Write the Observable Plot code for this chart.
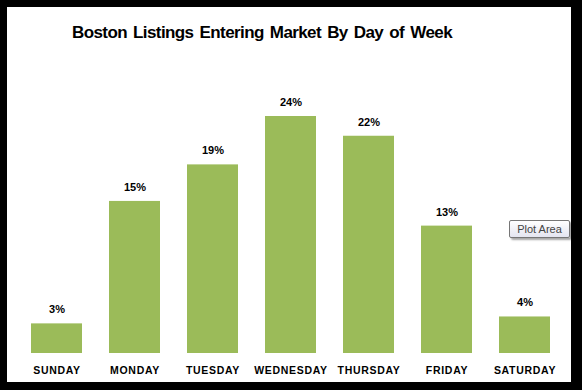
<!DOCTYPE html>
<html><head><meta charset="utf-8">
<script src="https://cdn.jsdelivr.net/npm/d3@7"></script>
<script src="https://cdn.jsdelivr.net/npm/@observablehq/plot@0.6"></script>
<style>
html,body{margin:0;padding:0;background:#000;width:582px;height:390px;overflow:hidden;}
#frame{position:absolute;left:7px;top:7px;width:564px;height:375px;background:#fff;}
#title{position:absolute;left:0;top:0;width:510px;height:50px;text-align:center;line-height:52px;font-family:"Liberation Sans",Arial,sans-serif;font-weight:bold;font-size:17px;color:#000;letter-spacing:-0.6px;word-spacing:2px;white-space:nowrap;}
#chart{position:absolute;left:0;top:50px;}
#chart g[aria-label="x-axis tick label"] text{letter-spacing:0.7px;}
#tip{position:absolute;left:502px;top:213px;width:59px;height:16px;border:1px solid #767676;border-radius:2px;background:linear-gradient(#fff,#e4e5f0);box-shadow:2px 2px 2px rgba(0,0,0,0.35);font-family:"Liberation Sans",Arial,sans-serif;font-size:11px;color:#444;text-align:center;line-height:16px;}
</style></head>
<body>
<div id="frame">
  <div id="title">Boston Listings Entering Market By Day of Week</div>
  <div id="chart"></div>
  <div id="tip">Plot Area</div>
</div>
<script>
const days = ["SUNDAY","MONDAY","TUESDAY","WEDNESDAY","THURSDAY","FRIDAY","SATURDAY"];
const shares = [3.0, 15.4, 19.1, 24.0, 22.0, 12.9, 3.7];
const labels = ["3%","15%","19%","24%","22%","13%","4%"];

const data = days.map((d, i) => ({day: d, value: shares[i], label: labels[i]}));

const chart = Plot.plot({
  width: 564,
  height: 325,
  marginLeft: 24,
  marginRight: 20,
  marginTop: 59,
  marginBottom: 29,
  style: {fontFamily: "'Liberation Sans', Arial, sans-serif", background: "transparent"},
  x: {domain: days, paddingInner: 0.346, paddingOuter: 0, label: null},
  y: {domain: [0, 24], axis: null},
  marks: [
    Plot.barY(data, {x: "day", y: "value", fill: "#9BBB59"}),
    Plot.text(data, {x: "day", y: "value", text: "label", dy: -14, fontSize: 11, fontWeight: "bold", fill: "#000"}),
    Plot.axisX({tickSize: 0, tickPadding: 13, fontSize: 10.5, fontWeight: "bold", fill: "#000", label: null})
  ]
});
document.getElementById("chart").appendChild(chart);
</script>
</body></html>
